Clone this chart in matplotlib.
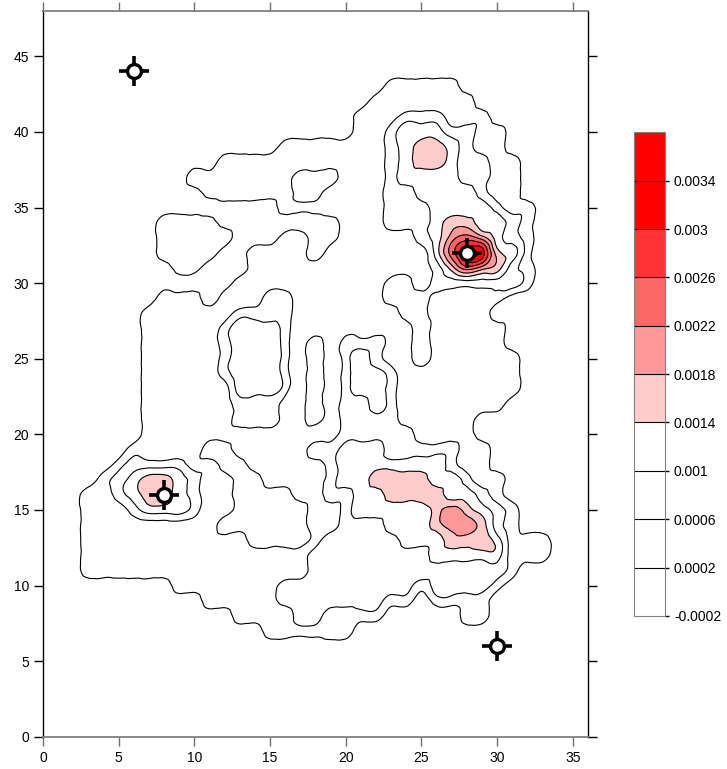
import numpy as np
import matplotlib
matplotlib.use("Agg")
import matplotlib.pyplot as plt
import matplotlib.tri as mtri

plt.rcParams['font.family'] = ['Liberation Sans', 'DejaVu Sans']
plt.rcParams['font.size'] = 10

# grid nodes (data units)
grid_x = np.arange(0, 37)
grid_y = np.arange(0, 49)

# band index at every grid node, top row is y=48, columns x=0..36
# (spaces only split the columns in tens)
# 0: < 0.0002, 1: 0.0002-0.0006, 2: 0.0006-0.001, 3: 0.001-0.0014, 4: 0.0014-0.0018,
# 5: 0.0018-0.0022, 6: 0.0022-0.0026, 7: 0.0026-0.003, 8: 0.003-0.0034
band_rows = [
    "0000000000 0000000000 0000000000 0000000",  # 48
    "0000000000 0000000000 0000000000 0000000",  # 47
    "0000000000 0000000000 0000000000 0000000",  # 46
    "0000000000 0000000000 0000000000 0000000",  # 45
    "0000000000 0000000000 0000000000 0000000",  # 44
    "0000000000 0000000000 0001111100 0000000",  # 43
    "0000000000 0000000000 0011111110 0000000",  # 42
    "0000000000 0000000000 0111222111 0000000",  # 41
    "0000000000 0000000000 0112333221 1000000",  # 40
    "0000000000 0000001111 1112344321 1000000",  # 39
    "0000000000 0011111111 1112344322 1100000",  # 38
    "0000000000 1111111222 1112333322 1100000",  # 37
    "0000000000 0111111221 1112233332 1100000",  # 36
    "0000000000 0000001111 1112223333 2110000",  # 35
    "0000000011 1100000000 1112223443 3210000",  # 34
    "0000000011 1110001100 1111123565 3210000",  # 33
    "0000000011 1100111101 1111113688 4310000",  # 32
    "0000000001 1000111111 1111112465 4210000",  # 31
    "0000000000 0001111111 1112212222 2210000",  # 30
    "0000000011 1011122111 1112221111 1000000",  # 29
    "0000000111 1112222111 1111221111 0000000",  # 28
    "0000000111 1123332111 1111121111 1000000",  # 27
    "0000000111 1123332121 2221121111 1000000",  # 26
    "0000000111 1123332121 2321121111 1100000",  # 25
    "0000000111 1123332121 2332111111 1100000",  # 24
    "0000000111 1113332121 2332111111 1100000",  # 23
    "0000000111 1112221121 2232111111 1000000",  # 22
    "0000000111 1112221121 2222111110 0000000",  # 21
    "0000000111 1111111111 2222211110 0000000",  # 20
    "0000001111 1001111122 3332222211 0000000",  # 19
    "0000012222 1100111112 3333333211 0000000",  # 18
    "0000123443 2110011112 3344443321 1000000",  # 17
    "0001123443 2110000112 2334444332 1000000",  # 16
    "0001112333 2110000011 2333334543 2100000",  # 15
    "0001111111 1100000011 2223334554 2100000",  # 14
    "0001111111 1111000012 2222333444 3111000",  # 13
    "0001111111 1111111122 2222223333 3111000",  # 12
    "0001111111 1111111122 2222222222 2100000",  # 11
    "0000000001 1111112222 2222212222 1000000",  # 10
    "0000000000 0111112222 2221101111 0000000",  # 9
    "0000000000 0001111221 1110000011 0000000",  # 8
    "0000000000 0000011111 1000000000 0000000",  # 7
    "0000000000 0000000000 0000000000 0000000",  # 6
    "0000000000 0000000000 0000000000 0000000",  # 5
    "0000000000 0000000000 0000000000 0000000",  # 4
    "0000000000 0000000000 0000000000 0000000",  # 3
    "0000000000 0000000000 0000000000 0000000",  # 2
    "0000000000 0000000000 0000000000 0000000",  # 1
    "0000000000 0000000000 0000000000 0000000",  # 0
]

levels = [-0.0002, 0.0002, 0.0006, 0.001, 0.0014, 0.0018, 0.0022, 0.0026, 0.003, 0.0034, 0.0038]
band_colors = ['white', 'white', 'white', 'white', '#FFCCCC', '#FF9999', '#FF6666', '#FF3333', '#FF0000', '#FF0000']
tick_labels = ['-0.0002', '0.0002', '0.0006', '0.001', '0.0014', '0.0018', '0.0022', '0.0026', '0.003', '0.0034']

# marked points
mark_x = [6, 28, 8, 30]
mark_y = [44, 32, 16, 6]

# band index -> middle of the band
z = np.array([[int(c) for c in row.replace(' ', '')] for row in band_rows[::-1]]) * 0.0004

# triangulate the grid (two triangles per cell) and let matplotlib's refiner smooth the contours
X, Y = np.meshgrid(grid_x, grid_y)
nx, ny = len(grid_x), len(grid_y)
tris = []
for j in range(ny - 1):
    for i in range(nx - 1):
        a = j * nx + i
        tris.append([a, a + 1, a + nx + 1])
        tris.append([a, a + nx + 1, a + nx])
tri = mtri.Triangulation(X.ravel(), Y.ravel(), np.array(tris))
tri_f, z_f = mtri.UniformTriRefiner(tri).refine_field(z.ravel(), subdiv=3)

fig = plt.figure(figsize=(7.27, 7.69), dpi=100)
ax = fig.add_axes([0.0591, 0.042, 0.7497, 0.9437])

cf = ax.tricontourf(tri_f, z_f, levels=levels, colors=band_colors)
cs = ax.tricontour(tri_f, z_f, levels=levels[1:-1], colors='black', linewidths=0.8)

ax.plot(mark_x, mark_y, linestyle='none', marker='+', markersize=21, mew=2.6, color='black', zorder=5)
ax.plot(mark_x, mark_y, linestyle='none', marker='o', markersize=10, mew=2.4,
        markerfacecolor='white', markeredgecolor='black', zorder=6)

ax.set_xlim(0, 36)
ax.set_ylim(0, 48)
ax.set_xticks(range(0, 36, 5))
ax.set_yticks(range(0, 46, 5))
ax.tick_params(direction='out', length=6.5, width=1, top=True, right=True, labelsize=10)
ax.tick_params(axis='x', colors='#707070', labelcolor='black')
for side in ['top', 'bottom']:
    ax.spines[side].set_color('#808080')
    ax.spines[side].set_linewidth(1.3)
for side in ['left', 'right']:
    ax.spines[side].set_color('black')
    ax.spines[side].set_linewidth(1.0)

cax = fig.add_axes([0.872, 0.199, 0.0426, 0.629])
cb = fig.colorbar(cf, cax=cax, ticks=levels[:-1])
cb.add_lines(cs)
cb.ax.set_yticklabels(tick_labels)
cb.ax.tick_params(length=3, width=1, labelsize=10)
cb.outline.set_edgecolor('#808080')

fig.savefig('out.png', dpi=100)
